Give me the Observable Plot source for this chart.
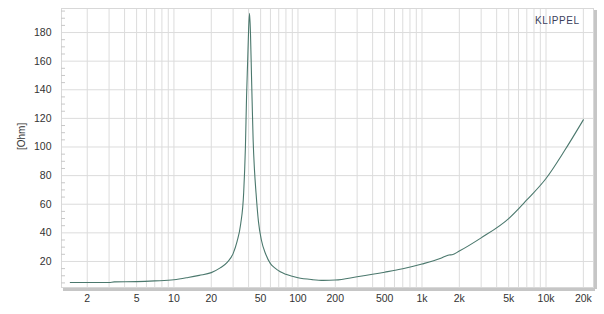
<!DOCTYPE html>
<html>
<head>
<meta charset="utf-8">
<script src="https://cdn.jsdelivr.net/npm/d3@7"></script>
<script src="https://cdn.jsdelivr.net/npm/@observablehq/plot@0.6"></script>
<style>
  html, body { margin: 0; padding: 0; background: #fff; }
  #chart { position: relative; width: 604px; height: 314px; }
  .brand { position: absolute; left: 535px; top: 15px; font: 10px "Liberation Sans", Arial, sans-serif; color: #3b3f5c; letter-spacing: 0.6px; }
</style>
</head>
<body>
<div id="chart"><div class="brand">KLIPPEL</div></div>
<script>
// Frequency [Hz] and impedance magnitude [Ohm]
const freq = [1.46, 2, 3, 3.3, 5, 7, 10, 13, 16, 20, 23.6, 27, 30, 32.3, 34.5, 36.5, 37.7, 38.5, 39.3, 40, 40.7,
  41.4, 42.2, 42.7, 43.5, 44.6, 45.9, 48, 50.7, 55, 60, 65, 72, 80, 100, 130, 160, 200, 300, 500, 700, 1000,
  1400, 1650, 1750, 2000, 3000, 5000, 7000, 10000, 14000, 20000];
const ohm = [5.3, 5.3, 5.3, 5.7, 5.9, 6.4, 7.2, 8.8, 10.3, 12.2, 15.5, 19.5, 25.5, 34, 46, 68, 100, 135, 160, 182, 193.5,
  180, 150, 132, 105, 84, 68, 48, 35, 25, 18.5, 15.5, 12.8, 11, 8.6, 7.3, 6.8, 7.0, 9.3, 12.5, 14.9, 18.2,
  22, 24.5, 24.7, 27.3, 36.5, 50, 63, 78, 97, 119];

const xDomain = [1.24, 24150];
const yDomain = [1.8, 196.8];
const yTicks = [20, 40, 60, 80, 100, 120, 140, 160, 180];
const yMinor = d3.range(5, 196, 5).filter(v => v % 20 !== 0);
const xTicks = [2, 5, 10, 20, 50, 100, 200, 500, 1000, 2000, 5000, 10000, 20000];
const xTickLabels = ["2", "5", "10", "20", "50", "100", "200", "500", "1k", "2k", "5k", "10k", "20k"];
const xGrid = [2,3,4,5,6,7,8,9,10,20,30,40,50,60,70,80,90,100,200,300,400,500,600,700,800,900,
  1000,2000,3000,4000,5000,6000,7000,8000,9000,10000,20000];
const yLabel = "[Ohm]";

const data = freq.map((f, i) => ({f, z: ohm[i]}));
const xLabelData = xTicks.map((t, i) => ({t, label: xTickLabels[i]}));

const chart = Plot.plot({
  width: 604,
  height: 314,
  marginLeft: 61,
  marginTop: 8,
  marginRight: 11,
  marginBottom: 27,
  style: {fontFamily: "'Liberation Sans', Arial, sans-serif", fontSize: "10.5px", color: "#333", background: "transparent"},
  x: {type: "log", domain: xDomain, axis: null},
  y: {domain: yDomain},
  marks: [
    Plot.ruleX(xGrid, {stroke: "#dcdcdc", strokeWidth: 1}),
    Plot.ruleY(yTicks, {stroke: "#dcdcdc", strokeWidth: 1}),
    Plot.frame({stroke: "#d8d8d8"}),
    Plot.ruleY([yDomain[0]], {stroke: "#c6c6c6", strokeWidth: 3, dy: 2, dx: 2}),
    Plot.ruleX([xDomain[1]], {stroke: "#c6c6c6", strokeWidth: 3, dx: 2, dy: 2}),
    Plot.axisY(yMinor, {tickSize: -4, stroke: "#c8c8c8", text: null, label: null}),
    Plot.axisY(yTicks, {tickSize: 0, tickPadding: 10, label: null, fill: "#333"}),
    Plot.text(xLabelData, {x: "t", text: "label", frameAnchor: "bottom", dy: 14, fill: "#333", fontSize: 10.5}),
    Plot.text([yLabel], {frameAnchor: "left", dx: -40, dy: 2, rotate: -90, fontSize: 10, fill: "#333"}),
    Plot.line(data, {x: "f", y: "z", stroke: "#4b786d", strokeWidth: 1.1, curve: "monotone-x"})
  ]
});
document.getElementById("chart").prepend(chart);
chart.style.position = "absolute";
chart.style.left = "0";
chart.style.top = "0";
</script>
</body>
</html>
